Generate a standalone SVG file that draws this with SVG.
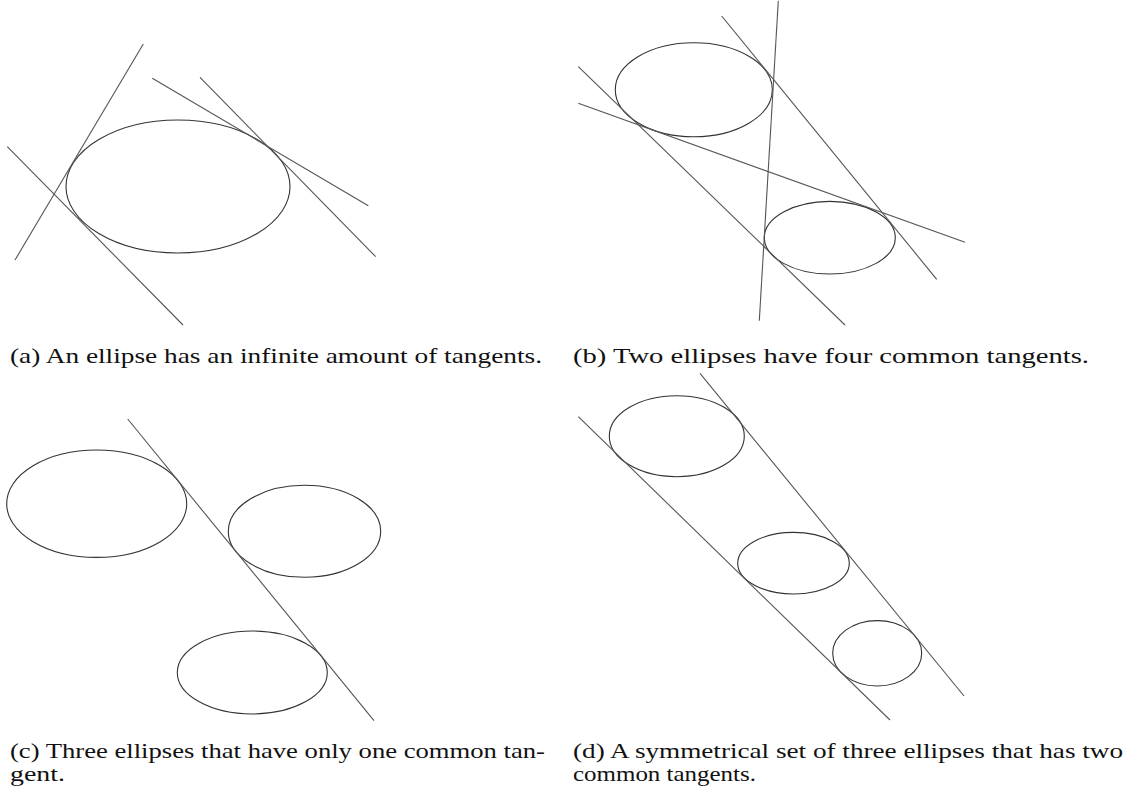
<svg xmlns="http://www.w3.org/2000/svg" width="1131" height="795" viewBox="0 0 1131 795">
<style>
.e{fill:none;stroke:#333;stroke-width:1.1}
.l{fill:none;stroke:#555;stroke-width:1.1}
.c{font-family:"Liberation Serif","DejaVu Serif",serif;font-size:21px;fill:#111}
</style>
<rect width="1131" height="795" fill="#fff"/>
<g id="panel-a">
  <g id="a-ellipse"><ellipse class="e" cx="178" cy="186.5" rx="112" ry="66.5"/></g>
  <g id="a-tangents">
    <line class="l" x1="143.3" y1="44" x2="15" y2="260"/>
    <line class="l" x1="152.3" y1="78.3" x2="368.3" y2="205.7"/>
    <line class="l" x1="200" y1="77.3" x2="375.7" y2="256.7"/>
    <line class="l" x1="7.3" y1="146.7" x2="183" y2="325"/>
  </g>
  <text class="c" x="10" y="363" textLength="532" lengthAdjust="spacingAndGlyphs">(a) An ellipse has an infinite amount of tangents.</text>
</g>
<g id="panel-b">
  <g id="b-ellipse1"><ellipse class="e" cx="693.8" cy="89.7" rx="78.5" ry="47"/></g>
  <g id="b-ellipse2"><ellipse class="e" cx="829.8" cy="237.7" rx="65.5" ry="36.3"/></g>
  <g id="b-tangents">
    <line class="l" x1="778.3" y1="0.7" x2="759.3" y2="320.7"/>
    <line class="l" x1="721.7" y1="16" x2="936.7" y2="279.3"/>
    <line class="l" x1="578.3" y1="66.7" x2="845" y2="325"/>
    <line class="l" x1="578.3" y1="103.3" x2="965" y2="242.3"/>
  </g>
  <text class="c" x="573" y="363" textLength="516" lengthAdjust="spacingAndGlyphs">(b) Two ellipses have four common tangents.</text>
</g>
<g id="panel-c">
  <g id="c-ellipse1"><ellipse class="e" cx="96.7" cy="503.7" rx="90" ry="53.7"/></g>
  <g id="c-ellipse2"><ellipse class="e" cx="304.5" cy="531.3" rx="76.2" ry="46"/></g>
  <g id="c-ellipse3"><ellipse class="e" cx="252.3" cy="672.5" rx="75" ry="41.5"/></g>
  <g id="c-tangent">
    <line class="l" x1="127.7" y1="419" x2="374" y2="720.7"/>
  </g>
  <text class="c" x="10" y="758" textLength="535" lengthAdjust="spacingAndGlyphs">(c) Three ellipses that have only one common tan-</text>
  <text class="c" x="10" y="781" textLength="55" lengthAdjust="spacingAndGlyphs">gent.</text>
</g>
<g id="panel-d">
  <g id="d-ellipse1"><ellipse class="e" cx="676.8" cy="436.2" rx="67.5" ry="40.5"/></g>
  <g id="d-ellipse2"><ellipse class="e" cx="793.5" cy="563.2" rx="55.8" ry="30.8"/></g>
  <g id="d-ellipse3"><ellipse class="e" cx="877.2" cy="653.3" rx="44.5" ry="32.7"/></g>
  <g id="d-tangents">
    <line class="l" x1="700" y1="373.3" x2="964" y2="696"/>
    <line class="l" x1="578.3" y1="416.7" x2="890" y2="720"/>
  </g>
  <text class="c" x="573" y="758" textLength="550" lengthAdjust="spacingAndGlyphs">(d) A symmetrical set of three ellipses that has two</text>
  <text class="c" x="573" y="781" textLength="183" lengthAdjust="spacingAndGlyphs">common tangents.</text>
</g>
</svg>
